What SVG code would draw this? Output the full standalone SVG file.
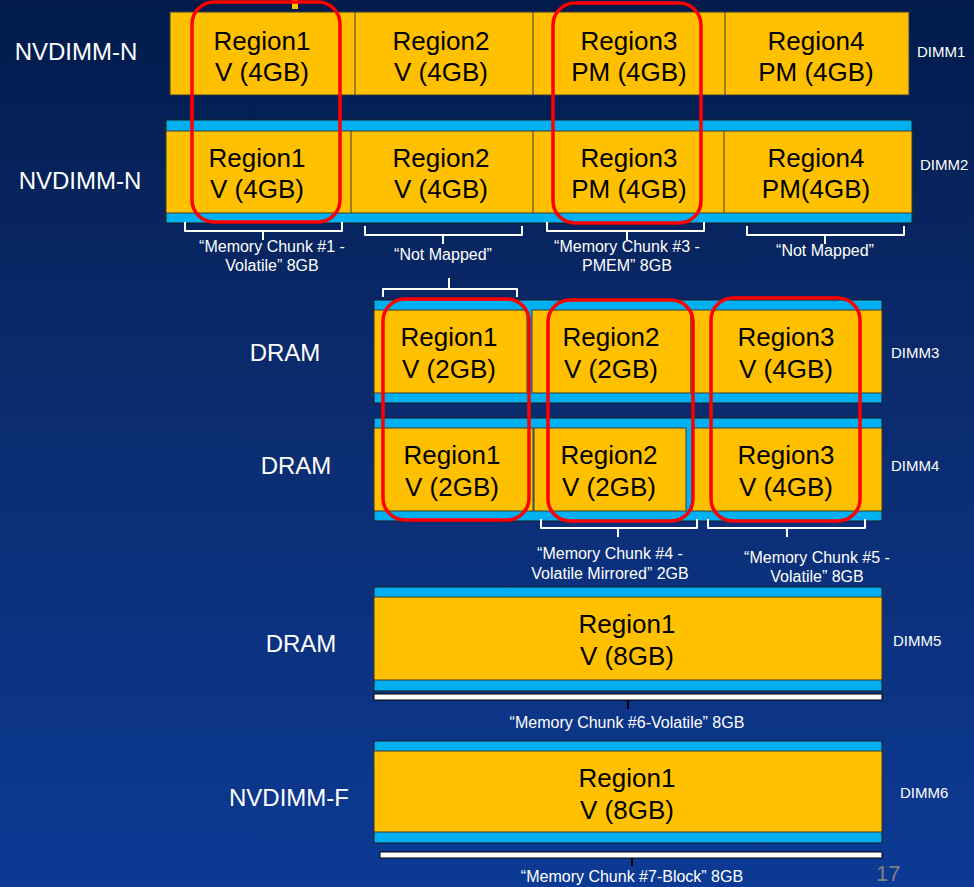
<svg xmlns="http://www.w3.org/2000/svg" width="974" height="887" viewBox="0 0 974 887">
<defs>
<linearGradient id="bg" x1="0" y1="0" x2="0" y2="1">
<stop offset="0" stop-color="#001b4b"/>
<stop offset="0.4" stop-color="#0b2a6b"/>
<stop offset="1" stop-color="#0c3a94"/>
</linearGradient>
<style>
.y{fill:#FFC000;stroke:#3a3a3a;stroke-width:1}
.b{fill:#00B0F0;stroke:#1a1a1a;stroke-width:1}
.dv{stroke:#3a3a3a;stroke-width:1}
text{font-family:"Liberation Sans",Arial,sans-serif}
.rt{font-size:26px;fill:#000;text-anchor:middle}
.lbl{font-size:24px;fill:#fff;text-anchor:middle}
.dimm{font-size:15px;fill:#fff}
.ch{font-size:16px;fill:#fff;text-anchor:middle}
.br{fill:none;stroke:#fff;stroke-width:2;stroke-linejoin:round}
.hl{fill:none;stroke:#FF0000;stroke-width:3.5}
.bar{fill:#fff;stroke:#000;stroke-width:1}
</style>
</defs>
<rect x="0" y="0" width="974" height="887" fill="url(#bg)"/>
<rect x="292" y="0" width="6" height="9" fill="#FFC000"/>

<g id="labels">
<text class="lbl" x="76" y="60">NVDIMM-N</text>
<text class="lbl" x="80" y="189">NVDIMM-N</text>
<text class="lbl" x="285" y="361">DRAM</text>
<text class="lbl" x="296" y="474">DRAM</text>
<text class="lbl" x="301" y="652">DRAM</text>
<text class="lbl" x="289" y="806">NVDIMM-F</text>
<text class="dimm" x="917" y="57">DIMM1</text>
<text class="dimm" x="920" y="170">DIMM2</text>
<text class="dimm" x="891" y="358">DIMM3</text>
<text class="dimm" x="891" y="471">DIMM4</text>
<text class="dimm" x="893" y="646">DIMM5</text>
<text class="dimm" x="900" y="798">DIMM6</text>
<text x="876" y="881" font-size="22" fill="#808080">17</text>
</g>

<g id="dimm1">
<rect class="y" x="170" y="12" width="739" height="83"/>
<path class="dv" d="M355 12V95M533 12V95M725 12V95"/>
<text class="rt" x="262" y="50">Region1</text><text class="rt" x="262" y="81">V (4GB)</text>
<text class="rt" x="441" y="50">Region2</text><text class="rt" x="441" y="81">V (4GB)</text>
<text class="rt" x="629" y="50">Region3</text><text class="rt" x="629" y="81">PM (4GB)</text>
<text class="rt" x="816" y="50">Region4</text><text class="rt" x="816" y="81">PM (4GB)</text>
</g>

<g id="dimm2">
<rect class="b" x="166" y="120" width="746" height="103"/>
<rect class="y" x="166" y="131" width="746" height="82"/>
<path class="dv" d="M351 131V213M533 131V213M724 131V213"/>
<text class="rt" x="257" y="167">Region1</text><text class="rt" x="257" y="198">V (4GB)</text>
<text class="rt" x="441" y="167">Region2</text><text class="rt" x="441" y="198">V (4GB)</text>
<text class="rt" x="629" y="167">Region3</text><text class="rt" x="629" y="198">PM (4GB)</text>
<text class="rt" x="816" y="167">Region4</text><text class="rt" x="816" y="198">PM(4GB)</text>
</g>

<g id="dimm3">
<rect class="b" x="374" y="300" width="508" height="103"/>
<rect class="y" x="374" y="310" width="153" height="83"/>
<rect class="y" x="532" y="310" width="159" height="83"/>
<rect class="y" x="691" y="310" width="191" height="83"/>
<text class="rt" x="449" y="346">Region1</text><text class="rt" x="449" y="378">V (2GB)</text>
<text class="rt" x="611" y="346">Region2</text><text class="rt" x="611" y="378">V (2GB)</text>
<text class="rt" x="786" y="346">Region3</text><text class="rt" x="786" y="378">V (4GB)</text>
</g>

<g id="dimm4">
<rect class="b" x="374" y="418" width="508" height="103"/>
<rect class="y" x="374" y="428" width="159" height="83"/>
<rect class="y" x="534" y="428" width="152" height="83"/>
<rect class="y" x="692" y="428" width="190" height="83"/>
<text class="rt" x="452" y="464">Region1</text><text class="rt" x="452" y="496">V (2GB)</text>
<text class="rt" x="609" y="464">Region2</text><text class="rt" x="609" y="496">V (2GB)</text>
<text class="rt" x="786" y="464">Region3</text><text class="rt" x="786" y="496">V (4GB)</text>
</g>

<g id="dimm5">
<rect class="b" x="374" y="587" width="508" height="104"/>
<rect class="y" x="374" y="597" width="508" height="83"/>
<text class="rt" x="627" y="633">Region1</text><text class="rt" x="627" y="665">V (8GB)</text>
</g>

<g id="dimm6">
<rect class="b" x="374" y="741" width="508" height="102"/>
<rect class="y" x="374" y="751" width="508" height="81"/>
<text class="rt" x="627" y="787">Region1</text><text class="rt" x="627" y="819">V (8GB)</text>
</g>

<g id="connectors">
<path class="br" d="M185 222V231H342V222M263 231V240"/>
<path class="br" d="M365 226V235H522V226M443 235V244"/>
<path class="br" d="M547 222V231H704V222M627 231V240"/>
<path class="br" d="M747 226V235H904V226M825 235V244"/>
<path class="br" d="M383 297V289H517V297M449 289V278"/>
<path class="br" d="M541 519V528H697V519M618 528V537"/>
<path class="br" d="M708 519V528H865V519M787 528V537"/>
<rect class="bar" x="374" y="694" width="508" height="6"/>
<path d="M628 700V709" stroke="#000" stroke-width="2"/>
<rect class="bar" x="380" y="852" width="502" height="6"/>
<path d="M632 858V866" stroke="#000" stroke-width="2"/>
</g>

<g id="chunk-labels">
<text class="ch" x="272" y="252">“Memory Chunk #1 -</text>
<text class="ch" x="272" y="271">Volatile” 8GB</text>
<text class="ch" x="443" y="260">“Not Mapped”</text>
<text class="ch" x="627" y="252">“Memory Chunk #3 -</text>
<text class="ch" x="627" y="271">PMEM” 8GB</text>
<text class="ch" x="825" y="256">“Not Mapped”</text>
<text class="ch" x="610" y="559">“Memory Chunk #4 -</text>
<text class="ch" x="610" y="579">Volatile Mirrored” 2GB</text>
<text class="ch" x="817" y="563">“Memory Chunk #5 -</text>
<text class="ch" x="817" y="582">Volatile” 8GB</text>
<text class="ch" x="627" y="728">“Memory Chunk #6-Volatile” 8GB</text>
<text class="ch" x="632" y="882">“Memory Chunk #7-Block” 8GB</text>
</g>

<g id="highlights">
<rect class="hl" x="192" y="2" width="148" height="220" rx="22"/>
<rect class="hl" x="553" y="3" width="148" height="220" rx="22"/>
<rect class="hl" x="383" y="299" width="146" height="221" rx="22"/>
<rect class="hl" x="548" y="300" width="145" height="221" rx="22"/>
<rect class="hl" x="711" y="298" width="149" height="223" rx="22"/>
</g>
</svg>
